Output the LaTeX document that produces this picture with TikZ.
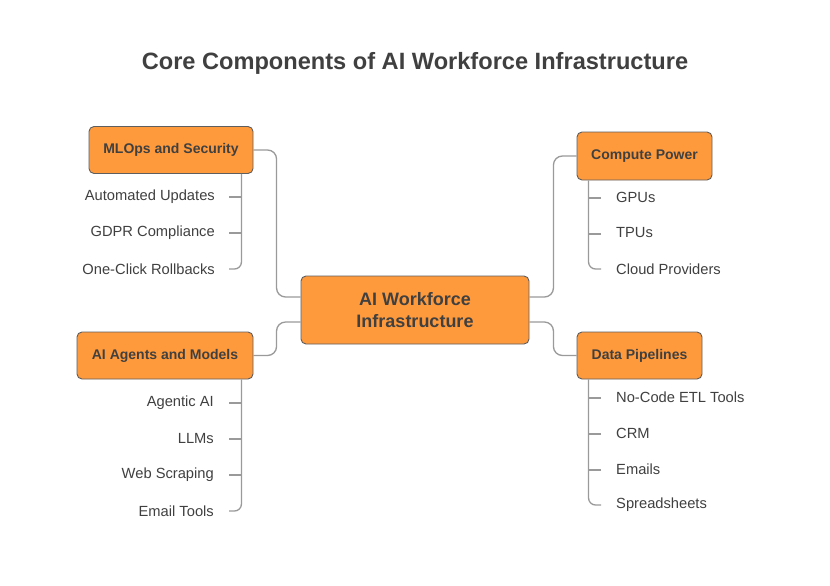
\documentclass[tikz,border=0pt]{standalone}
\usepackage{fontspec}
\setmainfont{Liberation Sans}
\usetikzlibrary{calc}
\definecolor{boxfill}{HTML}{FF9A3C}
\definecolor{boxline}{HTML}{5E5E5E}
\definecolor{txt}{HTML}{404040}
\definecolor{conncol}{HTML}{9A9A9A}
\tikzset{
  catbox/.style={draw=boxline, line width=0.9pt, fill=boxfill, rounded corners=5pt,
    text=txt, font=\bfseries\fontsize{14}{16}\selectfont, inner sep=0pt},
  mainbox/.style={catbox, font=\bfseries\fontsize{18}{22.5}\selectfont, align=center},
  item/.style={text=txt, font=\fontsize{14.7}{17}\selectfont, inner sep=0pt},
  conn/.style={draw=conncol, line width=1.3pt, rounded corners=9pt},
  tick/.style={draw=conncol, line width=1.3pt}
}
\begin{document}
\begin{tikzpicture}[x=1pt,y=-1pt]
\useasboundingbox[fill=white] (0,0) rectangle (830,586);

\node[text=txt, font=\bfseries\fontsize{23.6}{28}\selectfont] (title) at (415,63) {Core Components of AI Workforce Infrastructure};

\node[mainbox, minimum width=228pt, minimum height=68pt] (c) at (415,310) {AI Workforce\\Infrastructure};
\node[catbox, minimum width=164pt, minimum height=47pt] (ml) at (171,150) {MLOps and Security};
\node[catbox, minimum width=135pt, minimum height=48pt] (cp) at (644.5,156) {Compute Power};
\node[catbox, minimum width=176pt, minimum height=47pt] (ag) at (165,355.5) {AI Agents and Models};
\node[catbox, minimum width=125pt, minimum height=47pt] (dp) at (639.5,355.5) {Data Pipelines};

% main connectors
\draw[conn] (ml.east) -| ($(c.west)+(-24,-13)$) -- ($(c.west)+(0,-13)$);
\draw[conn] ($(c.west)+(0,12)$) -- ($(c.west)+(-24,12)$) |- (ag.east);
\draw[conn] ($(c.east)+(0,-13)$) -- ($(c.east)+(24,-13)$) |- (cp.west);
\draw[conn] ($(c.east)+(0,12)$) -- ($(c.east)+(24,12)$) |- (dp.west);

% MLOps items
\node[item, anchor=east] (ml1) at (215,197) {Automated Updates};
\node[item, anchor=east] (ml2) at (215,233) {GDPR Compliance};
\node[item, anchor=east] (ml3) at (215,269) {One-Click Rollbacks};
\coordinate (ml1t) at (229,197);
\coordinate (ml2t) at (229,233);
\coordinate (ml3t) at (229,269);
\draw[conn, rounded corners=7pt] ([xshift=-12pt]ml.south east) |- (ml3t);
\draw[tick] (ml1t) -- ++(12,0);
\draw[tick] (ml2t) -- ++(12,0);

% Compute items
\node[item, anchor=west] (cp1) at (616,197) {GPUs};
\node[item, anchor=west] (cp2) at (616,233) {TPUs};
\node[item, anchor=west] (cp3) at (616,269) {Cloud Providers};
\coordinate (cp1t) at (601,198);
\coordinate (cp2t) at (601,234);
\coordinate (cp3t) at (601,269);
\draw[conn, rounded corners=7pt] ([xshift=12pt]cp.south west) |- (cp3t);
\draw[tick] (cp1t) -- ++(-12,0);
\draw[tick] (cp2t) -- ++(-12,0);

% Agents items
\node[item, anchor=east] (ag1) at (214,403) {Agentic AI};
\node[item, anchor=east] (ag2) at (214,439) {LLMs};
\node[item, anchor=east] (ag3) at (214,475) {Web Scraping};
\node[item, anchor=east] (ag4) at (214,511) {Email Tools};
\coordinate (ag1t) at (229,403);
\coordinate (ag2t) at (229,439);
\coordinate (ag3t) at (229,475);
\coordinate (ag4t) at (229,511);
\draw[conn, rounded corners=7pt] ([xshift=-12pt]ag.south east) |- (ag4t);
\draw[tick] (ag1t) -- ++(12,0);
\draw[tick] (ag2t) -- ++(12,0);
\draw[tick] (ag3t) -- ++(12,0);

% Data items
\node[item, anchor=west] (dp1) at (616,397) {No-Code ETL Tools};
\node[item, anchor=west] (dp2) at (616,433) {CRM};
\node[item, anchor=west] (dp3) at (616,469) {Emails};
\node[item, anchor=west] (dp4) at (616,505) {Spreadsheets};
\coordinate (dp1t) at (601,398);
\coordinate (dp2t) at (601,434);
\coordinate (dp3t) at (601,470);
\coordinate (dp4t) at (601,505);
\draw[conn, rounded corners=7pt] ([xshift=12pt]dp.south west) |- (dp4t);
\draw[tick] (dp1t) -- ++(-12,0);
\draw[tick] (dp2t) -- ++(-12,0);
\draw[tick] (dp3t) -- ++(-12,0);
\end{tikzpicture}
\end{document}
